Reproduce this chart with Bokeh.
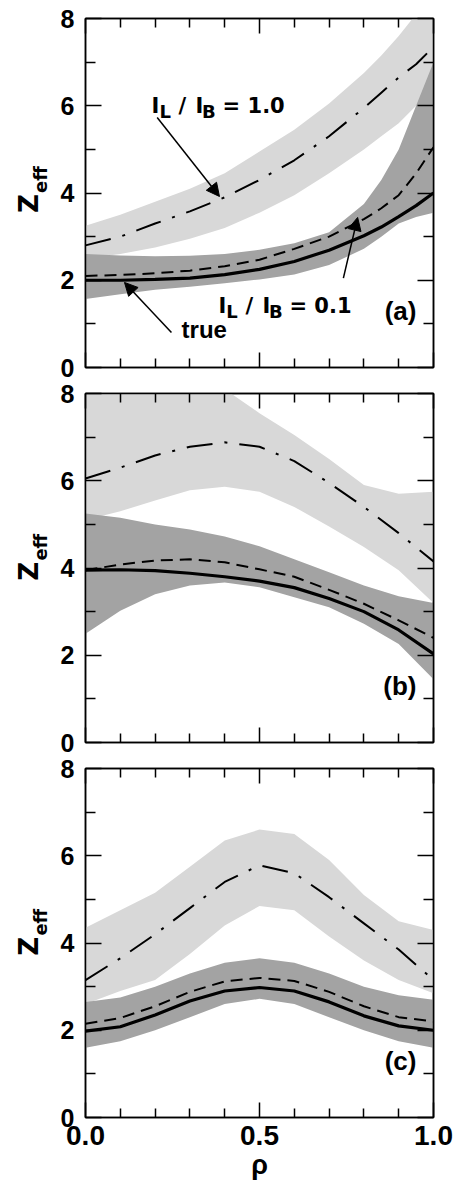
import numpy as np
from bokeh.plotting import figure
from bokeh.models import Range1d, LinearAxis, FixedTicker, Label, Arrow, NormalHead
from bokeh.layouts import column, row
from bokeh.embed import file_html
from bokeh.resources import INLINE

# ---------------- data ----------------
rho_a = [0.0, 0.1, 0.2, 0.3, 0.4, 0.5, 0.6, 0.7, 0.8, 0.85, 0.9, 0.95, 1.0]
true_a = [2.00, 2.00, 2.02, 2.05, 2.13, 2.25, 2.43, 2.69, 3.02, 3.22, 3.46, 3.71, 4.00]
est01_a = [2.10, 2.12, 2.16, 2.22, 2.32, 2.47, 2.72, 3.00, 3.40, 3.65, 3.95, 4.45, 5.05]
band01_lo_a = [1.57, 1.68, 1.78, 1.85, 1.93, 2.02, 2.13, 2.35, 2.72, 3.00, 3.30, 3.45, 3.55]
band01_hi_a = [2.60, 2.57, 2.55, 2.56, 2.60, 2.70, 2.85, 3.10, 3.75, 4.30, 5.00, 6.00, 7.00]
est10_a = [2.80, 3.00, 3.30, 3.58, 3.90, 4.30, 4.75, 5.30, 5.95, 6.30, 6.65, 6.95, 7.35]
band10_lo_a = [2.50, 2.60, 2.75, 2.95, 3.20, 3.55, 3.95, 4.45, 5.00, 5.30, 5.60, 6.00, 6.40]
band10_hi_a = [3.25, 3.50, 3.80, 4.10, 4.45, 4.95, 5.45, 6.05, 6.75, 7.15, 7.60, 8.10, 8.70]

rho_b = [0.0, 0.1, 0.2, 0.3, 0.4, 0.5, 0.6, 0.7, 0.8, 0.9, 1.0]
true_b = [3.95, 3.96, 3.94, 3.88, 3.80, 3.70, 3.55, 3.30, 3.00, 2.58, 2.03]
est01_b = [3.95, 4.08, 4.17, 4.20, 4.13, 3.97, 3.80, 3.50, 3.18, 2.80, 2.40]
band01_lo_b = [2.49, 3.02, 3.40, 3.60, 3.67, 3.56, 3.33, 3.10, 2.72, 2.26, 1.45]
band01_hi_b = [5.25, 5.15, 5.00, 4.88, 4.72, 4.50, 4.20, 3.90, 3.60, 3.35, 3.20]
est10_b = [6.05, 6.30, 6.58, 6.78, 6.88, 6.78, 6.45, 5.95, 5.40, 4.80, 4.15]
band10_lo_b = [5.10, 5.30, 5.55, 5.78, 5.86, 5.75, 5.40, 4.95, 4.48, 3.95, 3.20]
band10_hi_b = [8.50, 8.60, 8.60, 8.40, 8.10, 7.55, 7.05, 6.50, 5.90, 5.70, 5.75]

rho_c = [0.0, 0.1, 0.2, 0.3, 0.4, 0.5, 0.6, 0.7, 0.8, 0.9, 1.0]
true_c = [1.98, 2.08, 2.35, 2.67, 2.90, 2.98, 2.90, 2.65, 2.33, 2.10, 2.00]
est01_c = [2.15, 2.28, 2.55, 2.88, 3.12, 3.20, 3.13, 2.88, 2.55, 2.30, 2.20]
band01_lo_c = [1.60, 1.75, 2.00, 2.30, 2.60, 2.72, 2.60, 2.30, 2.00, 1.75, 1.60]
band01_hi_c = [2.65, 2.75, 3.00, 3.30, 3.55, 3.65, 3.55, 3.30, 3.00, 2.80, 2.70]
est10_c = [3.15, 3.65, 4.20, 4.80, 5.40, 5.78, 5.60, 5.05, 4.45, 3.85, 3.15]
band10_lo_c = [2.60, 2.90, 3.15, 3.75, 4.40, 4.85, 4.75, 4.15, 3.60, 3.15, 2.85]
band10_hi_c = [4.35, 4.75, 5.15, 5.75, 6.35, 6.60, 6.50, 5.90, 5.10, 4.50, 4.30]

x_major = [0.0, 0.5, 1.0]
x_major_labels = ["0.0", "0.5", "1.0"]
x_minor = [0.1, 0.2, 0.3, 0.4, 0.6, 0.7, 0.8, 0.9]
y_major = [0, 2, 4, 6, 8]
y_minor = [1, 3, 5, 7]

LIGHT = "#d8d8d8"
DARK = "#a3a3a3"
TICK_FONT = "Liberation Sans"
ANN_FONT = "DejaVu Sans"
LBL_W = 52          # width of the strip that carries the rotated y label
LEFT_BORDER = 33    # space between the label strip and the frame
FRAME_W = 348
FRAME_H = 349


def style_axis(ax, labels, size, ticks):
    ax.axis_line_color = "black"
    ax.axis_line_width = 1.5
    ax.major_tick_line_width = 1.5
    ax.minor_tick_line_width = 1.5
    ax.major_tick_line_color = "black"
    ax.minor_tick_line_color = "black"
    ax.major_tick_out = 0
    ax.minor_tick_out = 0
    if labels:
        ax.major_label_text_font = TICK_FONT
        ax.major_label_text_font_style = "bold"
        ax.major_label_text_font_size = size
        ax.major_label_text_color = "black"
    else:
        ax.major_label_overrides = {t: "" for t in ticks}
        ax.major_label_text_font_size = "6px"
        ax.major_label_standoff = 0


def make_panel(rho, true, est01, lo01, hi01, est10, lo10, hi10, tag,
               bottom_labels, top_border, bottom_border):
    p = figure(frame_width=FRAME_W, frame_height=FRAME_H,
               x_range=Range1d(0, 1), y_range=Range1d(0, 8),
               x_axis_type=None, y_axis_type=None,
               output_backend="svg", toolbar_location=None,
               min_border_left=LEFT_BORDER, min_border_right=22,
               min_border_top=top_border, min_border_bottom=bottom_border,
               background_fill_color="white", border_fill_color="white")
    p.outline_line_color = "black"
    p.outline_line_width = 1.5

    xt = FixedTicker(ticks=x_major, minor_ticks=x_minor)
    yt = FixedTicker(ticks=y_major, minor_ticks=y_minor)

    left = LinearAxis(ticker=yt)
    style_axis(left, True, "25px", y_major)
    left.major_tick_in = 16
    left.minor_tick_in = 10
    left.major_label_standoff = 11
    p.add_layout(left, "left")

    right = LinearAxis(ticker=yt)
    style_axis(right, False, None, y_major)
    right.major_tick_in = 16
    right.minor_tick_in = 10
    p.add_layout(right, "right")

    below = LinearAxis(ticker=xt)
    style_axis(below, bottom_labels, "28px", x_major)
    below.major_tick_in = 15
    below.minor_tick_in = 9
    if bottom_labels:
        below.major_label_overrides = dict(zip(x_major, x_major_labels))
        below.major_label_standoff = 8
        below.axis_label = "ρ"
        below.axis_label_text_font = TICK_FONT
        below.axis_label_text_font_style = "bold"
        below.axis_label_text_font_size = "27px"
        below.axis_label_text_color = "black"
        below.axis_label_standoff = 2
    p.add_layout(below, "below")

    above = LinearAxis(ticker=xt)
    style_axis(above, False, None, x_major)
    above.major_tick_in = 15
    above.minor_tick_in = 9
    p.add_layout(above, "above")

    # uncertainty bands
    p.varea(x=rho, y1=lo10, y2=hi10, fill_color=LIGHT, fill_alpha=1.0)
    p.varea(x=rho, y1=lo01, y2=hi01, fill_color=DARK, fill_alpha=1.0)
    # reconstructions
    p.line(rho, est10, line_color="black", line_width=2, line_dash="26 12 3 12")
    p.line(rho, est01, line_color="black", line_width=2, line_dash="12 7")
    p.line(rho, true, line_color="black", line_width=3.2)

    # panel tag
    p.add_layout(Label(x=0.951, y=0.96, text=tag, text_align="right",
                       text_font=TICK_FONT, text_font_style="bold",
                       text_font_size="26px", text_color="black"))
    return p


def ylabel_strip(top_border, bottom_border, y0):
    s = figure(frame_width=LBL_W, frame_height=FRAME_H,
               x_range=Range1d(0, LBL_W), y_range=Range1d(0, 8),
               x_axis_type=None, y_axis_type=None,
               output_backend="svg", toolbar_location=None,
               min_border_left=0, min_border_right=0,
               min_border_top=top_border, min_border_bottom=bottom_border,
               background_fill_color="white", border_fill_color="white")
    s.outline_line_color = None
    s.add_layout(Label(x=28, y=y0, text="Z", angle=np.pi / 2,
                       text_align="left", text_baseline="alphabetic",
                       text_font=ANN_FONT, text_font_style="bold",
                       text_font_size="26px", text_color="black"))
    s.add_layout(Label(x=40, y=y0 + 0.46, text="eff", angle=np.pi / 2,
                       text_align="left", text_baseline="alphabetic",
                       text_font=ANN_FONT, text_font_style="bold",
                       text_font_size="18px", text_color="black"))
    return s


def ratio_label(p, x, y, val):
    pieces = [("I", 0, 0, "21px"), ("L", 7.8, -6, "18px"), ("/", 27, 0, "21px"),
              ("I", 44, 0, "21px"), ("B", 50.5, -6, "18px"), ("= " + val, 71, 0, "21px")]
    for txt, dx, dy, fs in pieces:
        p.add_layout(Label(x=x, y=y, text=txt, x_offset=dx, y_offset=dy,
                           text_align="left", text_baseline="alphabetic",
                           text_font=ANN_FONT, text_font_style="bold",
                           text_font_size=fs, text_color="black"))


def arrow(p, xs, ys, xe, ye):
    p.add_layout(Arrow(end=NormalHead(size=13, fill_color="black", line_color="black", line_width=1),
                       x_start=xs, y_start=ys, x_end=xe, y_end=ye,
                       line_color="black", line_width=1.5))


pa = make_panel(rho_a, true_a, est01_a, band01_lo_a, band01_hi_a,
                est10_a, band10_lo_a, band10_hi_a, "(a)", False, 18, 13)
ratio_label(pa, 0.19, 6.0, "1.0")
ratio_label(pa, 0.382, 1.42, "0.1")
pa.add_layout(Label(x=0.276, y=0.57, text="true", text_align="left",
                    text_font=TICK_FONT, text_font_style="bold",
                    text_font_size="24px", text_color="black"))
arrow(pa, 0.206, 5.73, 0.385, 3.92)
arrow(pa, 0.741, 2.05, 0.782, 3.44)
arrow(pa, 0.247, 0.80, 0.112, 1.95)

pb = make_panel(rho_b, true_b, est01_b, band01_lo_b, band01_hi_b,
                est10_b, band10_lo_b, band10_hi_b, "(b)", False, 13, 13)

pc = make_panel(rho_c, true_c, est01_c, band01_lo_c, band01_hi_c,
                est10_c, band10_lo_c, band10_hi_c, "(c)", True, 13, 40)

layout = column(
    row(ylabel_strip(18, 13, 3.54), pa, spacing=0),
    row(ylabel_strip(13, 13, 3.71), pb, spacing=0),
    row(ylabel_strip(13, 40, 3.71), pc, spacing=0, align="start"),
    spacing=0)
open("out.html", "w").write(file_html(layout, INLINE))
